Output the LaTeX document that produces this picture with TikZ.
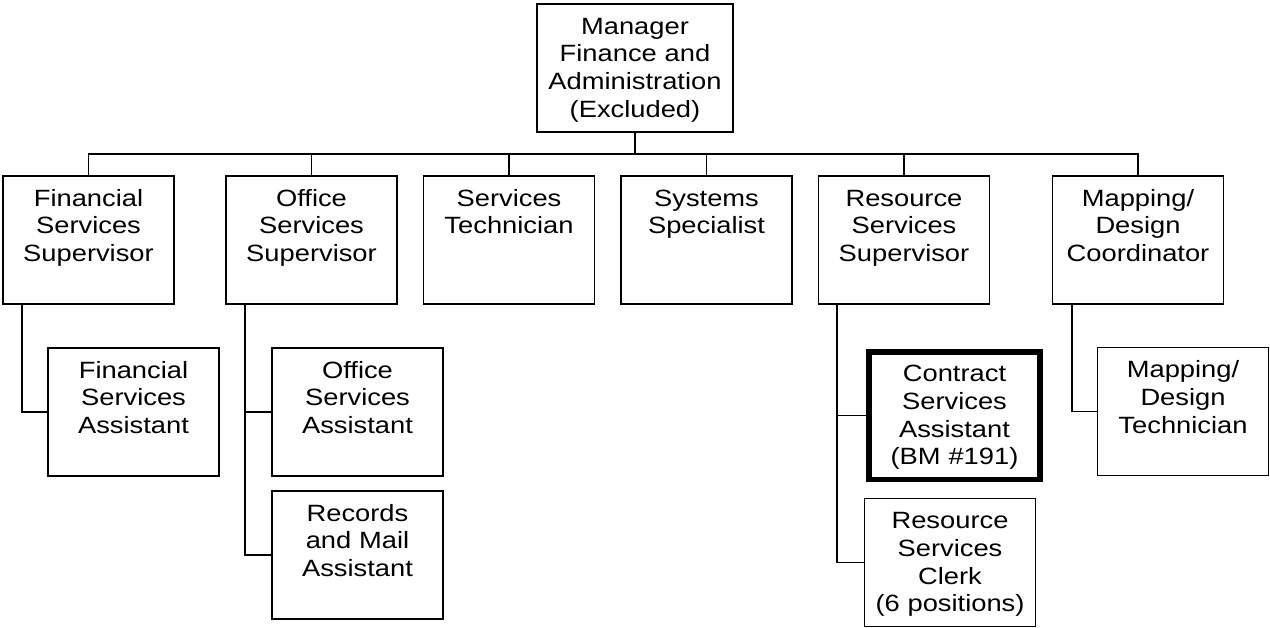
\documentclass[tikz,border=0pt]{standalone}
\usepackage{fontspec}
\setmainfont{Liberation Sans}[FakeStretch=1.16]
\usetikzlibrary{positioning}

\tikzset{
        jobbox/.style={draw, line width=0.9pt, inner sep=0pt, text width=3.42cm, align=center,
                text height=0.6cm, text depth=1.96cm, font=\fontsize{13.4}{15.8}\selectfont},
        keybox/.style={jobbox, line width=3.4pt},
        orgline/.style={line width=0.9pt}
}

\begin{document}
\begin{tikzpicture}[x=0.02cm, y=-0.02cm]
        \useasboundingbox (0,0) rectangle (1270,627);

        \node[jobbox, text width=3.92cm] (mgr) at (635,68) {Manager\\Finance and\\Administration\\(Excluded)};

        \node[jobbox] (fss) at (88.5,240) {Financial\\Services\\Supervisor};
        \node[jobbox] (oss) at (311.5,240) {Office\\Services\\Supervisor};
        \node[jobbox] (st) at (509,240) {Services\\Technician};
        \node[jobbox] (ss) at (706.5,240) {Systems\\Specialist};
        \node[jobbox] (rss) at (904,240) {Resource\\Services\\Supervisor};
        \node[jobbox] (mdc) at (1138,240) {Mapping/\\Design\\Coordinator};

        \node[jobbox] (fsa) at (133.5,412) {Financial\\Services\\Assistant};
        \node[jobbox] (osa) at (357.5,412) {Office\\Services\\Assistant};
        \node[jobbox] (rma) at (357.5,555) {Records\\and Mail\\Assistant};
        \node[keybox] (csa) at (954.5,415.5) {Contract\\Services\\Assistant\\(BM \#191)};
        \node[jobbox] (rsc) at (950,562.5) {Resource\\Services\\Clerk\\(6 positions)};
        \node[jobbox] (mdt) at (1183,411.5) {Mapping/\\Design\\Technician};

        \coordinate (bus) at (635,154);
        \draw[orgline] (mgr.south) -- (bus);
        \draw[orgline] (fss.north) |- (bus) -| (mdc.north);
        \foreach \n in {oss,st,ss,rss}
                \draw[orgline] (\n.north) -- (\n.north |- bus);

        \coordinate (fssdrop) at ([xshift=0.4cm]fss.south west);
        \coordinate (ossdrop) at ([xshift=0.4cm]oss.south west);
        \coordinate (rssdrop) at ([xshift=0.38cm]rss.south west);
        \coordinate (mdcdrop) at ([xshift=0.4cm]mdc.south west);

        \draw[orgline] (fssdrop) |- (fsa.west);
        \draw[orgline] (ossdrop) |- (rma.west);
        \draw[orgline] (osa.west) -- (osa.west -| ossdrop);
        \draw[orgline] (rssdrop) |- (rsc.west);
        \draw[orgline] (csa.west) -- (csa.west -| rssdrop);
        \draw[orgline] (mdcdrop) |- (mdt.west);
\end{tikzpicture}
\end{document}
